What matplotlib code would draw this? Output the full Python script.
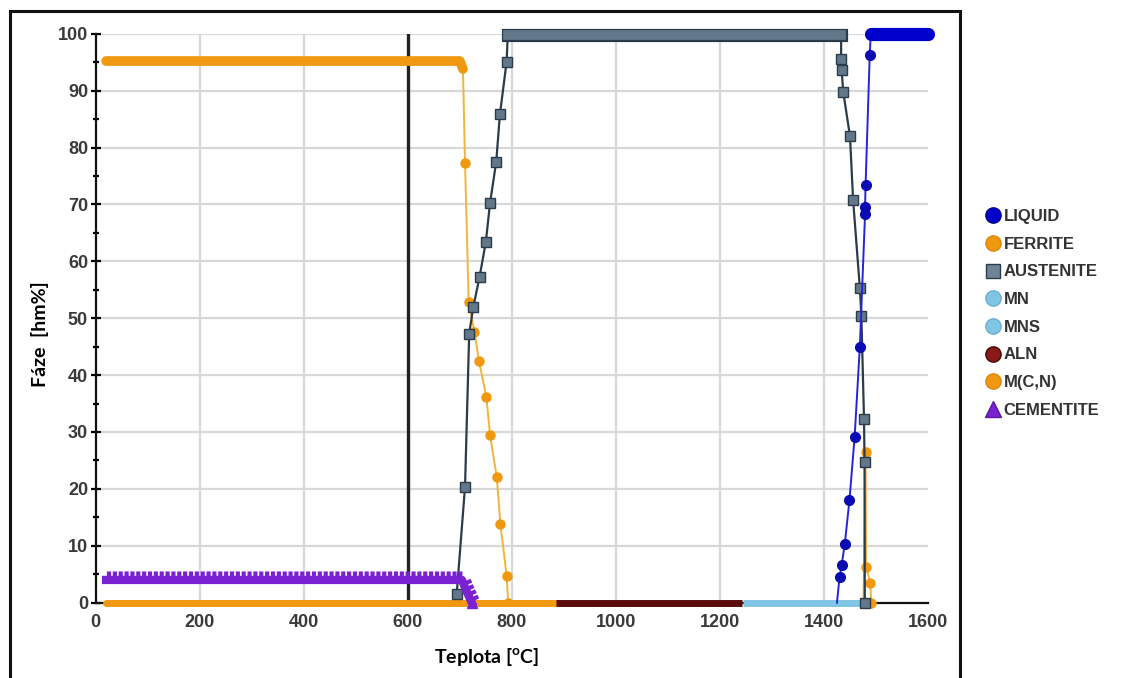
import matplotlib.pyplot as plt
import matplotlib.patheffects as pe
from matplotlib.lines import Line2D
from matplotlib.patches import Rectangle

plt.rcParams['mathtext.fontset'] = 'custom'
plt.rcParams['mathtext.rm'] = 'Lato'
plt.rcParams['mathtext.bf'] = 'Lato:bold'

# phase fractions [hm%]
liquid_t = [1425, 1430, 1434, 1440, 1449, 1459, 1469, 1479, 1479, 1480, 1488, 1490, 1600]
liquid_v = [0, 4.5, 6.6, 10.3, 18, 29.2, 45, 68.3, 69.6, 73.4, 96.3, 100, 100]

ferrite_a_t = [20, 700, 706, 710, 717, 728, 737, 751, 758, 771, 778, 790, 793]
ferrite_a_v = [95.2, 95.2, 93.8, 77.2, 52.9, 47.6, 42.4, 36.2, 29.5, 22.1, 13.8, 4.7, 0]
ferrite_d_t = [1476, 1480, 1481, 1489, 1491]
ferrite_d_v = [0, 26.5, 6.3, 3.5, 0]

austenite_t = [694, 710, 718, 726, 738, 750, 758, 770, 777, 790, 792, 1433,
               1433, 1434, 1437, 1450, 1456, 1469, 1472, 1477, 1478, 1478.5]
austenite_v = [1.6, 20.4, 47.3, 52, 57.3, 63.4, 70.2, 77.5, 85.8, 95.1, 99.7, 99.7,
               95.5, 93.6, 89.8, 82, 70.8, 55.3, 50.3, 32.2, 24.8, 0]

cementite_t = [20, 704, 713, 723]
cementite_v = [4.0, 4.0, 2.0, 0]

mcn_t, mcn_v = [20, 885], [0, 0]
aln_t, aln_v = [885, 1242], [0, 0]
mns_t, mns_v = [1244, 1472], [0, 0]

legend_names = ['LIQUID', 'FERRITE', 'AUSTENITE', 'MN', 'MNS', 'ALN', 'M(C,N)', 'CEMENTITE']

c_liq = '#0b0bb4'
c_fer = '#f0980f'
c_fer_line = '#f2b43a'
c_aus = '#62788a'
c_aus_edge = '#2c3b49'
c_mns = '#80c6e4'
c_aln = '#5a0b0b'
c_cem = '#7a22d2'

fig = plt.figure(figsize=(11.24, 6.78), dpi=100)
ax = fig.add_axes([95.7 / 1124, 1 - 602.7 / 678, 832.3 / 1124, 569 / 678])

# outer frame of the screenshot
fig.patches.append(Rectangle((10 / 1124, -0.1), 950 / 1124, 1.1 - 11.5 / 678,
                             transform=fig.transFigure, fill=False, lw=2.2,
                             edgecolor='#111111', clip_on=False))

# grid
for x in [200, 400, 800, 1000, 1200, 1400]:
    ax.axvline(x, color='#d8d8d8', lw=1.6, zorder=1)
for y in range(10, 101, 10):
    ax.axhline(y, color='#d8d8d8', lw=1.6, zorder=1)
ax.axvline(600, color='#222222', lw=2.4, zorder=2)

# near-zero phases, drawn as thick bands
ax.plot(mcn_t, mcn_v, color=c_fer, lw=5, solid_capstyle='round', zorder=3, clip_on=False)
ax.plot(aln_t, aln_v, color=c_aln, lw=5, solid_capstyle='butt', zorder=3, clip_on=False)
ax.plot(mns_t, mns_v, color=c_mns, lw=5, solid_capstyle='butt', zorder=3, clip_on=False)

# ferrite
ax.plot(ferrite_a_t, ferrite_a_v, color=c_fer_line, lw=1.4, marker='o', ms=6.5,
        mfc=c_fer, mec=c_fer, markevery=list(range(3, 13)), zorder=4)
ax.plot(ferrite_a_t[:3], ferrite_a_v[:3], color=c_fer, lw=7, solid_capstyle='round',
        solid_joinstyle='round', zorder=4)
ax.plot(ferrite_d_t, ferrite_d_v, color=c_fer_line, lw=1.4, marker='o', ms=6.5,
        mfc=c_fer, mec=c_fer, markevery=[1, 2, 3, 4], zorder=4, clip_on=False)

# austenite
aus_marks = list(range(0, 10)) + list(range(12, 22))
ax.plot(austenite_t, austenite_v, color=c_aus_edge, lw=1.6, marker='s', ms=6.5,
        mfc=c_aus, mec=c_aus_edge, mew=1.0, markevery=aus_marks, zorder=5, clip_on=False)
ax.plot(austenite_t[10:12], austenite_v[10:12], color=c_aus_edge, lw=9.5,
        solid_capstyle='projecting', zorder=5, clip_on=False)
ax.plot(austenite_t[10:12], austenite_v[10:12], color=c_aus, lw=7,
        solid_capstyle='projecting', zorder=5, clip_on=False)

# liquid
ax.plot(liquid_t, liquid_v, color='#2424d8', lw=1.4, marker='o', ms=7,
        mfc=c_liq, mec=c_liq, markevery=list(range(1, 11)), zorder=6, clip_on=False)
ax.plot(liquid_t[-2:], liquid_v[-2:], color='#0000cc', lw=9.5, solid_capstyle='round',
        zorder=6, clip_on=False)

# cementite: thick band with a comb of small ticks on top
ax.plot(cementite_t, cementite_v, color=c_cem, lw=6, zorder=7, clip_on=False,
        path_effects=[pe.TickedStroke(spacing=4.2, angle=90, length=1.1, linewidth=3.0),
                      pe.Normal()])
ax.plot(cementite_t[-1:], cementite_v[-1:], ls='none', marker='^', ms=7, color=c_cem,
        zorder=7, clip_on=False)

ax.set_xlim(0, 1600)
ax.set_ylim(0, 100)
ax.set_xticks(range(0, 1601, 200))
ax.set_yticks(range(0, 101, 10))
ax.set_yticks(range(5, 100, 10), minor=True)
ax.set_xticks([1600], minor=True)
for s in ['top', 'right']:
    ax.spines[s].set_visible(False)
for s in ['left', 'bottom']:
    ax.spines[s].set_linewidth(1.6)
    ax.spines[s].set_color('#111111')
ax.tick_params(axis='y', which='major', direction='inout', length=7, width=1.6, pad=2)
ax.tick_params(axis='y', which='minor', direction='inout', length=5, width=1.6)
ax.tick_params(axis='x', which='major', length=0, pad=8)
ax.tick_params(axis='x', which='minor', direction='inout', length=10, width=1.6)
for lab in ax.get_xticklabels() + ax.get_yticklabels():
    lab.set_fontfamily('Liberation Sans')
    lab.set_fontweight('bold')
    lab.set_fontsize(13)
    lab.set_color('#3a3a3a')

fig.text(487 / 1124, 1 - 657 / 678, 'Teplota [$^{\\mathbf{o}}$C]', family='Lato',
         weight='bold', fontsize=14, ha='center', va='center')
fig.text(40 / 1124, 1 - 334 / 678, 'Fáze  [hm%]', family='Lato', weight='bold',
         fontsize=14, ha='center', va='center', rotation=90)

handles = [
    Line2D([], [], ls='none', marker='o', ms=11, mfc='#0000cc', mec='#000088'),
    Line2D([], [], ls='none', marker='o', ms=11, mfc=c_fer, mec='#d98a10'),
    Line2D([], [], ls='none', marker='s', ms=10.5, mfc='#6f8496', mec='#2c3b49'),
    Line2D([], [], ls='none', marker='o', ms=11, mfc=c_mns, mec='#6aaed0'),
    Line2D([], [], ls='none', marker='o', ms=11, mfc=c_mns, mec='#6aaed0'),
    Line2D([], [], ls='none', marker='o', ms=11, mfc='#8a1a1a', mec='#4a0505'),
    Line2D([], [], ls='none', marker='o', ms=11, mfc=c_fer, mec='#d98a10'),
    Line2D([], [], ls='none', marker='^', ms=11, mfc=c_cem, mec='#5a1aa0'),
]
fig.legend(handles, legend_names, loc='upper left', bbox_to_anchor=(987 / 1124, 1 - 209 / 678),
           frameon=False, handlelength=0.75, handletextpad=0.25, labelspacing=0.76,
           prop={'family': 'Liberation Sans', 'size': 12, 'weight': 'bold'},
           labelcolor='#333333', borderaxespad=0, borderpad=0)

fig.savefig('out.png', dpi=100)
